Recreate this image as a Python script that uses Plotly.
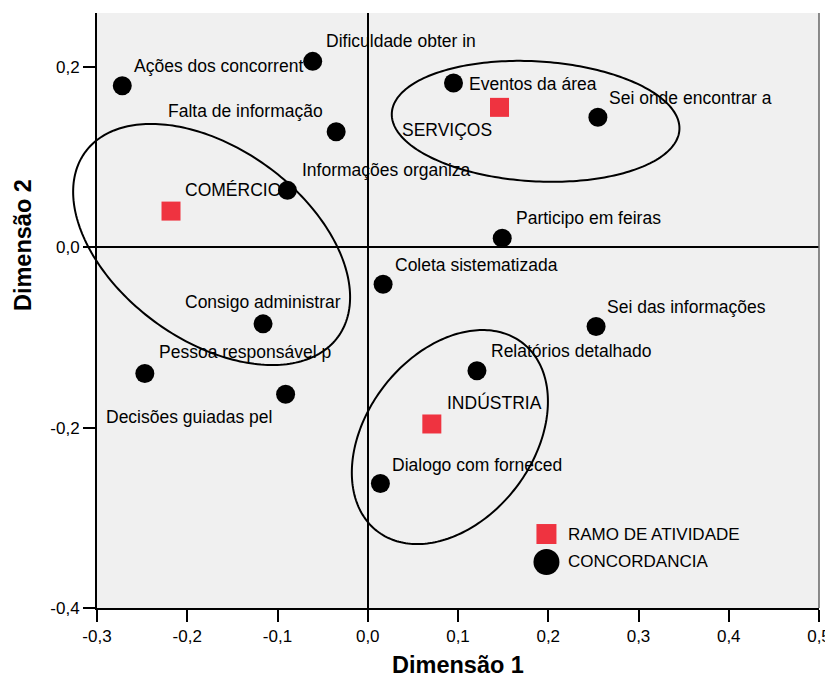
import numpy as np
import plotly.graph_objects as go

# ---------------- data ----------------
conc_labels = ["Ações dos concorrent", "Dificuldade obter in", "Falta de informação",
               "Informações organiza", "Eventos da área", "Sei onde encontrar a",
               "Participo em feiras", "Coleta sistematizada", "Consigo administrar",
               "Sei das informações", "Relatórios detalhado", "Pessoa responsável p",
               "Decisões guiadas pel", "Dialogo com forneced"]
conc_x = [-0.272, -0.061, -0.035, -0.089, 0.095, 0.255, 0.149, 0.017, -0.116,
          0.253, 0.121, -0.247, -0.091, 0.014]
conc_y = [0.179, 0.206, 0.128, 0.063, 0.182, 0.144, 0.010, -0.041, -0.085,
          -0.088, -0.137, -0.140, -0.163, -0.262]

ramo_labels = ["COMÉRCIO", "SERVIÇOS", "INDÚSTRIA"]
ramo_x = [-0.218, 0.146, 0.071]
ramo_y = [0.040, 0.155, -0.196]

# ellipses around each group: center x, center y, semi-major, semi-minor, angle (deg)
ell_cx = [-0.173, 0.186, 0.091]
ell_cy = [0.003, 0.1395, -0.2105]
ell_a = [0.1735, 0.1596, 0.1318]
ell_b = [0.1063, 0.0665, 0.0922]
ell_ang = [-36.2, -3.35, 52.4]

x_tickvals = [-0.3, -0.2, -0.1, 0.0, 0.1, 0.2, 0.3, 0.4, 0.5]
x_ticktext = ["-0,3", "-0,2", "-0,1", "0,0", "0,1", "0,2", "0,3", "0,4", "0,5"]
y_tickvals = [-0.4, -0.2, 0.0, 0.2]
y_ticktext = ["-0,4", "-0,2", "0,0", "0,2"]

legend_names = ["RAMO DE ATIVIDADE", "CONCORDANCIA"]

# ---------------- styles ----------------
FONT = "Arial, 'Liberation Sans', sans-serif"
RED = "#EF3340"
X_RANGE = [-0.3, 0.5]
Y_RANGE = [-0.4, 0.2596]
LABEL_SIZE = 17.5
TITLE_SIZE = 23.5
PAGE_OFFSET = 8  # default body margin of the html page
# label offsets in pixels (dx right, dy down) and anchors
conc_dx = [12, 13, -13, 15, 16, 11, 14, 12, 0, 11, 14, 14, -14, 12]
conc_dy = [-20, -20, -21, -20, 1, -19, -20, -19, -22, -20, -20, -21, 23, -19]
conc_anchor = ["left", "left", "right", "left", "left", "left", "left", "left",
               "center", "left", "left", "left", "right", "left"]
ramo_dx = [14, -8, 15]
ramo_dy = [-21, 23, -21]
ramo_anchor = ["left", "right", "left"]

fig = go.Figure()

fig.add_trace(go.Scatter(x=conc_x, y=conc_y, mode="markers", name=legend_names[1],
                         marker=dict(symbol="circle", size=19, color="black"),
                         showlegend=False))
fig.add_trace(go.Scatter(x=ramo_x, y=ramo_y, mode="markers", name=legend_names[0],
                         marker=dict(symbol="square", size=19, color=RED),
                         showlegend=False))

shapes = []

# ellipses (drawn as paper-referenced paths so they may extend past the axes, as in the reference)
t = np.linspace(0, 2 * np.pi, 241)
for cx, cy, a, b, ang in zip(ell_cx, ell_cy, ell_a, ell_b, ell_ang):
    th = np.deg2rad(ang)
    ex = cx + a * np.cos(t) * np.cos(th) - b * np.sin(t) * np.sin(th)
    ey = cy + a * np.cos(t) * np.sin(th) + b * np.sin(t) * np.cos(th)
    px = (ex - X_RANGE[0]) / (X_RANGE[1] - X_RANGE[0])
    py = (ey - Y_RANGE[0]) / (Y_RANGE[1] - Y_RANGE[0])
    path = "M " + " L ".join(f"{u:.5f},{v:.5f}" for u, v in zip(px, py)) + " Z"
    shapes.append(dict(type="path", xref="paper", yref="paper", path=path,
                       line=dict(color="black", width=2), layer="above"))

annotations = []


def pad(anchor, dx):
    if anchor == "left":
        return dx - 2
    if anchor == "right":
        return dx + 2
    return dx


for lab, x, y, dx, dy, anc in zip(conc_labels, conc_x, conc_y, conc_dx, conc_dy, conc_anchor):
    annotations.append(dict(x=x, y=y, xref="x", yref="y", text=lab, showarrow=False,
                            xanchor=anc, yanchor="middle", xshift=pad(anc, dx), yshift=-dy,
                            font=dict(family=FONT, size=LABEL_SIZE, color="black")))
for lab, x, y, dx, dy, anc in zip(ramo_labels, ramo_x, ramo_y, ramo_dx, ramo_dy, ramo_anchor):
    annotations.append(dict(x=x, y=y, xref="x", yref="y", text=lab, showarrow=False,
                            xanchor=anc, yanchor="middle", xshift=pad(anc, dx), yshift=-dy,
                            font=dict(family=FONT, size=LABEL_SIZE, color="black")))

# legend (drawn manually)
leg_x = 0.198
leg_y = [-0.318, -0.349]
shapes += [
    dict(type="rect", xref="x", yref="y", xsizemode="pixel", ysizemode="pixel",
         xanchor=leg_x, yanchor=leg_y[0], x0=-10, x1=10, y0=-10, y1=10,
         fillcolor=RED, line=dict(width=0)),
    dict(type="circle", xref="x", yref="y", xsizemode="pixel", ysizemode="pixel",
         xanchor=leg_x, yanchor=leg_y[1], x0=-13, x1=13, y0=-13, y1=13,
         fillcolor="black", line=dict(width=0)),
    dict(type="line", xref="paper", yref="paper", x0=1, x1=1, y0=0, y1=1,
         line=dict(color="#666666", width=1.5)),
]
for nm, ly in zip(legend_names, leg_y):
    annotations.append(dict(x=leg_x, y=ly, xref="x", yref="y", text=nm, showarrow=False,
                            xanchor="left", yanchor="middle", xshift=20,
                            font=dict(family=FONT, size=17, color="black")))

# axis titles
annotations.append(dict(x=0.5, y=0, xref="paper", yref="paper", text="<b>Dimensão 1</b>",
                        showarrow=False, xanchor="center", yanchor="middle", yshift=-57,
                        font=dict(family=FONT, size=TITLE_SIZE, color="black")))
annotations.append(dict(x=0, y=0.61, xref="paper", yref="paper", text="<b>Dimensão 2</b>",
                        showarrow=False, xanchor="center", yanchor="middle", xshift=-74,
                        textangle=-90, font=dict(family=FONT, size=TITLE_SIZE, color="black")))

axis_common = dict(showgrid=False, zeroline=True, zerolinecolor="black", zerolinewidth=2,
                   showline=True, linecolor="black", linewidth=2, ticks="outside",
                   ticklen=12, tickwidth=2, tickcolor="black", automargin=False,
                   tickfont=dict(family=FONT, size=17, color="black"))

fig.update_layout(
    width=833 - PAGE_OFFSET, height=681 - PAGE_OFFSET, autosize=False,
    margin=dict(l=97 - PAGE_OFFSET, r=14, t=13 - PAGE_OFFSET, b=73),
    paper_bgcolor="white", plot_bgcolor="#F0F0F0",
    showlegend=False,
    xaxis=dict(range=X_RANGE, tickvals=x_tickvals, ticktext=x_ticktext, **axis_common),
    yaxis=dict(range=Y_RANGE, tickvals=y_tickvals, ticktext=y_ticktext, **axis_common),
    shapes=shapes, annotations=annotations,
)

fig.write_html("out.html")
